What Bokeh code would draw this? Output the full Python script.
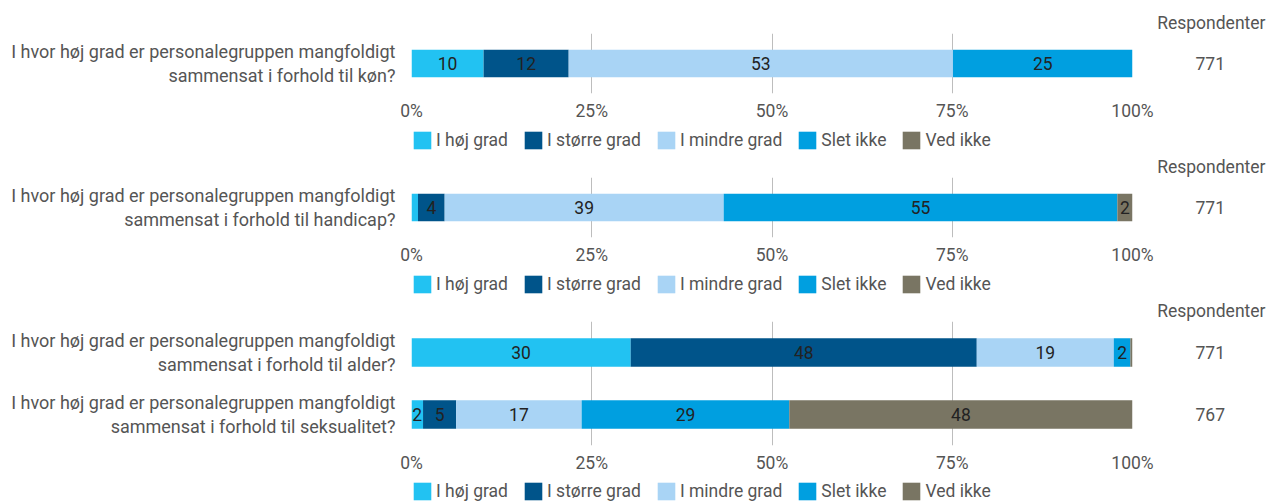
from bokeh.plotting import figure
from bokeh.models import (ColumnDataSource, Range1d, Legend, LegendItem,
                          FixedTicker, LinearAxis, PrintfTickFormatter)
from bokeh.layouts import column
from bokeh.core.properties import value
from bokeh.embed import file_html
from bokeh.resources import INLINE

# ---------------- data ----------------
categories = ["I høj grad", "I større grad", "I mindre grad", "Slet ikke", "Ved ikke"]
colors = ["#22c2f2", "#00548a", "#a9d4f5", "#009fe0", "#797563"]

questions = [
    "I hvor høj grad er personalegruppen mangfoldigt\nsammensat i forhold til køn?",
    "I hvor høj grad er personalegruppen mangfoldigt\nsammensat i forhold til handicap?",
    "I hvor høj grad er personalegruppen mangfoldigt\nsammensat i forhold til alder?",
    "I hvor høj grad er personalegruppen mangfoldigt\nsammensat i forhold til seksualitet?",
]
hoj_grad = [10.0, 0.9, 30.4, 1.6]
storre_grad = [11.8, 3.7, 48.0, 4.6]
mindre_grad = [53.3, 38.7, 19.0, 17.4]
slet_ikke = [24.9, 54.6, 2.3, 28.8]
ved_ikke = [0.0, 2.1, 0.3, 47.6]
respondents = [771, 771, 771, 767]
respondent_title = "Respondenter"

panels = [[0], [1], [2, 3]]
x_ticks = [0, 25, 50, 75, 100]

series = [hoj_grad, storre_grad, mindre_grad, slet_ikke, ved_ikke]
keys = ["s0", "s1", "s2", "s3", "s4"]

# ---------------- style ----------------
FONT = "Roboto"
FS = "17.5px"
FS_Q = "18px"
W = 1266
LEFT, RIGHT = 411, 134
TXT = "#555555"
# chart figure: (top border, frame height, bottom border); legend figure: (height, bottom offset)
chart_spec = [(33, 60, 32), (24, 60, 32), (24, 124, 32)]
legend_spec = [(28, 2), (28, 2), (25, 0)]


def style_axis(ax, standoff, size=FS):
    ax.axis_line_color = None
    ax.major_tick_line_color = None
    ax.minor_tick_line_color = None
    ax.major_tick_out = 0
    ax.major_tick_in = 0
    ax.minor_tick_out = 0
    ax.minor_tick_in = 0
    ax.major_label_standoff = standoff
    ax.major_label_text_font = FONT
    ax.major_label_text_font_size = size
    ax.major_label_text_color = TXT


items_layout = []
for pi, idxs in enumerate(panels):
    top, fh, bot = chart_spec[pi]
    h = top + fh + bot
    n = len(idxs)
    ypos = [n - k for k in range(n)]          # first question on top
    data = {"y": ypos}
    for key, vals in zip(keys, series):
        data[key] = [vals[i] for i in idxs]
    src = ColumnDataSource(data)

    p = figure(width=W, height=h, x_range=Range1d(0, 100),
               y_range=Range1d(0.5, n + 0.5),
               min_border_left=LEFT, min_border_right=RIGHT,
               min_border_top=top, min_border_bottom=bot,
               output_backend="svg", toolbar_location=None, tools="")
    p.outline_line_color = None
    p.background_fill_color = "white"
    p.border_fill_color = "white"

    p.hbar_stack(keys, y="y", height=0.46, color=colors, line_color=None, source=src)

    # value labels
    lx, ly, lt = [], [], []
    for k, i in enumerate(idxs):
        left = 0.0
        for vals in series:
            v = vals[i]
            if round(v) >= 2:
                lx.append(left + v / 2)
                ly.append(ypos[k])
                lt.append(str(round(v)))
            left += v
    p.text(x="x", y="y", text="t",
           source=ColumnDataSource(dict(x=lx, y=ly, t=lt)),
           text_font=value(FONT), text_font_size=FS, text_align="center",
           text_baseline="middle", text_color="#222222")

    # x axis
    xa = p.xaxis[0]
    xa.ticker = FixedTicker(ticks=x_ticks)
    xa.formatter = PrintfTickFormatter(format="%d%%")
    style_axis(xa, 7)

    p.xgrid.ticker = FixedTicker(ticks=x_ticks)
    p.xgrid.grid_line_color = "#bdbdbd"
    p.ygrid.grid_line_color = None

    # left axis: questions
    ya = p.yaxis[0]
    ya.ticker = FixedTicker(ticks=ypos)
    ya.major_label_overrides = {ypos[k]: questions[i] for k, i in enumerate(idxs)}
    style_axis(ya, 16, FS_Q)
    ya.major_label_text_line_height = 1.18

    # right axis: respondents
    ra = LinearAxis(ticker=FixedTicker(ticks=ypos),
                    major_label_overrides={ypos[k]: str(respondents[i]) for k, i in enumerate(idxs)})
    style_axis(ra, 63)
    p.add_layout(ra, "right")

    # title
    p.title.text = respondent_title
    p.title.align = "right"
    p.title.offset = -(RIGHT - 1)
    p.title.standoff = 2
    p.title.text_font = FONT
    p.title.text_font_size = FS
    p.title.text_font_style = "normal"
    p.title.text_color = TXT
    items_layout.append(p)

    # legend figure (legend glyphs only, zero-size swatch renderers)
    lh, loff = legend_spec[pi]
    lg = figure(width=W, height=lh, x_range=Range1d(0, 1), y_range=Range1d(0, 1),
                min_border_left=LEFT - 2, min_border_right=0, min_border_top=0,
                min_border_bottom=loff, x_axis_location=None, y_axis_location=None,
                output_backend="svg", toolbar_location=None, tools="")
    lg.outline_line_color = None
    lg.xgrid.visible = False
    lg.ygrid.visible = False
    lg.background_fill_color = "white"
    lg.border_fill_color = "white"
    rs = [lg.hbar(y=[0.5], left=[0], right=[0], height=0, color=c, line_color=None)
          for c in colors]
    legend = Legend(items=[LegendItem(label=c, renderers=[r]) for c, r in zip(categories, rs)],
                    orientation="horizontal", location="bottom_left",
                    glyph_width=22, glyph_height=22, label_standoff=3, spacing=14,
                    padding=0, margin=0, border_line_color=None,
                    background_fill_alpha=0, label_text_font=FONT,
                    label_text_font_size=FS, label_text_color=TXT)
    lg.add_layout(legend)
    items_layout.append(lg)

layout = column(*items_layout, spacing=0)
open("out.html", "w").write(file_html(layout, INLINE))
